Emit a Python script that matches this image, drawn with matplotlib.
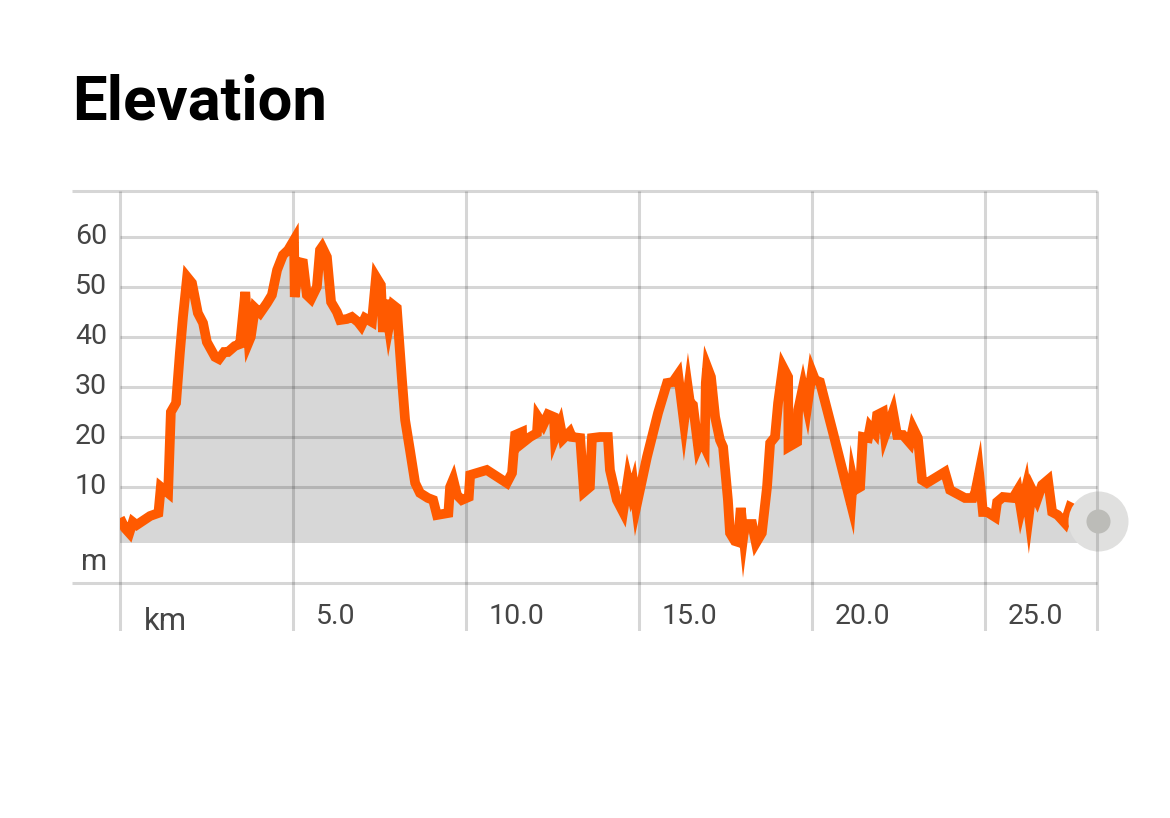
import numpy as np
import matplotlib
matplotlib.use('Agg')
import matplotlib.pyplot as plt
from matplotlib.patches import Rectangle

km = [0.0, 0.14, 0.27, 0.37, 0.48, 0.87, 1.11, 1.18, 1.39, 1.47, 1.62, 1.73, 1.82, 1.94, 2.08, 2.25, 2.4, 2.51,
      2.75, 2.86, 3.01, 3.12, 3.32, 3.47, 3.62, 3.72, 3.78, 3.9, 4.05, 4.25, 4.39, 4.54, 4.71, 4.86, 5.03, 5.05, 5.17,
      5.29, 5.4, 5.52, 5.69, 5.78, 5.84, 5.98, 6.1, 6.27, 6.36, 6.56, 6.7, 6.88, 6.97, 7.08, 7.28, 7.4, 7.54, 7.6,
      7.66, 7.77, 7.89, 8.0, 8.15, 8.24, 8.38, 8.53, 8.67, 8.9, 9.05, 9.16, 9.49, 9.54, 9.63, 9.74, 9.88, 10.08,
      10.12, 10.6, 11.18, 11.33, 11.42, 11.62, 11.63, 11.85, 12.05, 12.08, 12.23, 12.37, 12.54, 12.57, 12.72, 12.8,
      13.0, 13.06, 13.3, 13.41, 13.58, 13.64, 13.87, 14.1, 14.16, 14.36, 14.54, 14.68, 14.77, 14.84, 14.92, 15.23,
      15.55, 15.81, 15.98, 16.13, 16.3, 16.42, 16.47, 16.56, 16.71, 16.8, 16.9, 16.93, 16.97, 17.08, 17.2, 17.34, 17.43,
      17.57, 17.63, 17.77, 17.86, 17.94, 18.02, 18.06, 18.27, 18.38, 18.55, 18.7, 18.79, 18.93, 19.02, 19.16, 19.31,
      19.32, 19.57, 19.6, 19.74, 19.86, 20.0, 20.09, 20.23, 20.61, 21.13, 21.18, 21.24, 21.39, 21.47, 21.62, 21.68,
      21.82, 21.88, 22.05, 22.11, 22.34, 22.46, 22.63, 22.83, 22.92, 23.06, 23.18, 23.32, 23.84, 23.99, 24.42, 24.65,
      24.72, 24.83, 24.94, 25.06, 25.29, 25.35, 25.52, 25.81, 25.95, 26.04, 26.18, 26.27, 26.36, 26.5, 26.65, 26.82,
      26.94, 27.1, 27.31, 27.46, 28.27]
elev = [3.8, 1.8, 0.8, 3.0, 2.4, 4.2, 4.8, 10, 8.8, 25, 26.8, 36.8, 44, 52, 50.8, 44.8, 42.8, 39,
        36, 35.6, 37, 37, 38.2, 38.6, 49, 39, 40, 45.8, 44.8, 46.8, 48.4, 53.4, 56.4, 57.4, 59.4, 48, 55,
        54.8, 48.4, 47.6, 50, 57.4, 58, 56, 47, 45, 43.4, 43.6, 44, 43, 42.2, 43.8, 43, 52, 50.4, 41,
        47.4, 42, 46.4, 45.8, 31.4, 23.4, 17.4, 10.8, 8.8, 7.8, 7.4, 4.4, 4.8, 10, 11.5, 8.4, 7.4, 8,
        12.4, 13.4, 10.8, 12.8, 20.4, 21, 18.8, 20, 20.8, 24, 22.4, 24.5, 24, 19.8, 22.5, 19.6,
        21, 20, 19.8, 9, 10, 19.8, 20, 20, 13.4, 7.4, 5, 11.5, 8.8, 10.5, 6, 16,
        24.8, 30.8, 31, 32.5, 23, 29.5, 27, 26.4, 18, 19.5, 18, 30.8, 34, 32, 24, 19.4, 18,
        7.4, 0.8, -0.8, -1, 5.8, 0.4, 2.6, 2.6, -1.2, 0.8, 10, 18.8, 20, 26.8, 34, 32,
        18, 19, 25.4, 30, 26, 33, 31.4, 31, 20.8, 6.5, 11.4, 9.4, 10, 20, 19.8, 22,
        20.8, 24.4, 25, 20.4, 25, 20.4, 20.4, 18.8, 21.8, 19.8, 11.4, 10.8, 13, 9.4, 7.8, 7.8,
        9, 12.8, 5, 5, 4, 7, 8, 7.8, 9.4, 5.5, 9.6, 4.5, 9.4, 7.4, 10.4, 11.4,
        5, 4.4, 2.8, 6, 3.2]
x_grid = [0, 5, 10, 15, 20, 25, 28.24]
x_labels = ['', '5.0', '10.0', '15.0', '20.0', '25.0']
y_edges = [-9.2, 69.2]
y_ticks = [10, 20, 30, 40, 50, 60]
base = -1.2

km = np.array(km)
elev = np.array(elev)
plt.rcParams['font.family'] = 'Roboto'

fig = plt.figure(figsize=(11.7, 8.18), dpi=100)
ax = fig.add_axes([0, 0, 1, 1])
# 34.6 px per km, 5 px per m, zero at pixel (120, 537)
ax.set_xlim(-120 / 34.6, 1050 / 34.6)
ax.set_ylim(-281 / 5, 537 / 5)
ax.axis('off')

ax.fill_between(km, elev, base, where=elev > base, interpolate=True, color='#d7d7d7', lw=0, zorder=1)

grid_lw = 2.2
ax.hlines(y_edges, -48 / 34.6, 28.24, color='black', alpha=0.16, lw=grid_lw, zorder=2)
ax.hlines(y_ticks, 0, 28.24, color='black', alpha=0.16, lw=grid_lw, zorder=2)
ax.vlines(x_grid, -18.8, 69.2, color='black', alpha=0.16, lw=grid_lw, zorder=2)

line, = ax.plot(km, elev, color='#ff5a00', lw=7.0, solid_joinstyle='miter', solid_capstyle='butt', zorder=3)
line.set_clip_path(Rectangle((0, -20), 40, 100, transform=ax.transData))

# end marker sits on top of the line, last grid line still shows through
ax.scatter(km[-1], elev[-1], s=1866, color='#e0e0df', lw=0, zorder=4)
ax.vlines(x_grid[-1], elev[-1] - 6, elev[-1] + 6, color='black', alpha=0.14, lw=grid_lw, zorder=5)
ax.scatter(km[-1], elev[-1], s=300, color='#bcbcb8', lw=0, zorder=6)

for v in y_ticks:
    ax.text(-13 / 34.6, v, str(v), ha='right', va='center', fontsize=20.5, color='#454545', zorder=7)
ax.text(-13 / 34.6, -5, 'm', ha='right', va='center', fontsize=21.5, color='#454545', zorder=7)

for v, lab in zip(x_grid, x_labels):
    ax.annotate(lab, (v, -16), xytext=(16.2, 0), textcoords='offset points', ha='left', va='center',
                fontsize=20.5, color='#454545', zorder=7)
ax.text(1.3, -17, 'km', ha='center', va='center', fontsize=22.5, color='#454545', zorder=7)

# everything stops dead at the bottom of the chart
ax.axhspan(-56.2, -18.8, color='white', lw=0, zorder=8)

ax.text(-48 / 34.6, 86.9, 'Elevation', ha='left', va='center', fontsize=44.4, fontweight='bold', color='black', zorder=9)

fig.savefig('out.png', dpi=100)
